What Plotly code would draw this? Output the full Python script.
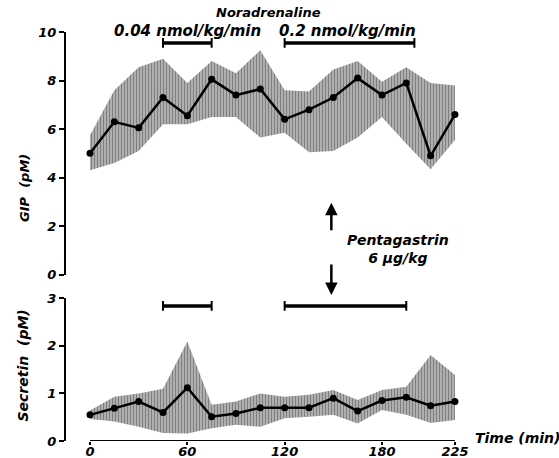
import plotly.graph_objects as go

# ---------------- data ----------------
times = [0, 15, 30, 45, 60, 75, 90, 105, 120, 135, 150, 165, 180, 195, 210, 225]

gip_mean = [5.0, 6.3, 6.05, 7.3, 6.55, 8.05, 7.4, 7.65, 6.4, 6.8, 7.3, 8.1, 7.4, 7.9, 4.9, 6.6]
gip_upper = [5.75, 7.6, 8.55, 8.9, 7.9, 8.8, 8.3, 9.25, 7.6, 7.55, 8.45, 8.8, 7.95, 8.55, 7.9, 7.8]
gip_lower = [4.3, 4.6, 5.1, 6.2, 6.2, 6.5, 6.5, 5.65, 5.85, 5.05, 5.1, 5.65, 6.5, 5.4, 4.35, 5.55]

sec_mean = [0.55, 0.69, 0.83, 0.60, 1.12, 0.51, 0.58, 0.70, 0.70, 0.70, 0.90, 0.63, 0.85, 0.92, 0.74, 0.83]
sec_upper = [0.64, 0.93, 1.0, 1.1, 2.09, 0.76, 0.83, 1.0, 0.93, 0.97, 1.07, 0.86, 1.07, 1.14, 1.81, 1.39]
sec_lower = [0.46, 0.41, 0.30, 0.17, 0.16, 0.27, 0.34, 0.30, 0.48, 0.51, 0.55, 0.37, 0.65, 0.55, 0.38, 0.44]

# infusion periods (min)
gip_infusions = [[45, 75], [120, 200]]
sec_infusions = [[45, 75], [120, 195]]
infusion_labels = ["0.04 nmol/kg/min", "0.2 nmol/kg/min"]

x_ticks = [0, 60, 120, 180, 225]
gip_ticks = [0, 2, 4, 6, 8, 10]
sec_ticks = [0, 1, 2, 3]

# ---------------- styling constants ----------------
FONT = "DejaVu Sans"


def bi(size):
    return dict(family=FONT, size=size, color="black", weight="bold", style="italic")


GIP_BAR_Y = 9.55
SEC_BAR_Y = 2.84

fig = go.Figure()


def add_panel(mean, upper, lower, xa, ya):
    fig.add_trace(go.Scatter(
        x=times + times[::-1], y=upper + lower[::-1],
        xaxis=xa, yaxis=ya, mode="lines", fill="toself",
        line=dict(width=0, color="black"),
        fillcolor="rgba(0,0,0,0)",
        fillpattern=dict(shape="|", fgcolor="black", bgcolor="white", size=3, solidity=0.75),
        showlegend=False, hoverinfo="skip"))
    fig.add_trace(go.Scatter(
        x=times, y=mean, xaxis=xa, yaxis=ya, mode="lines+markers",
        line=dict(color="black", width=2.5),
        marker=dict(color="black", size=7),
        showlegend=False))


add_panel(gip_mean, gip_upper, gip_lower, "x", "y")
add_panel(sec_mean, sec_upper, sec_lower, "x2", "y2")

for periods, level, xa, ya in [(gip_infusions, GIP_BAR_Y, "x", "y"),
                               (sec_infusions, SEC_BAR_Y, "x2", "y2")]:
    for p in periods:
        fig.add_trace(go.Scatter(
            x=p, y=[level, level], xaxis=xa, yaxis=ya, mode="lines+markers",
            line=dict(color="black", width=3.5),
            marker=dict(symbol="line-ns", size=7, line=dict(width=2, color="black")),
            showlegend=False, hoverinfo="skip"))

# x-axis line from first to last time
fig.add_shape(type="line", xref="x2", yref="y2", x0=times[0], x1=times[-1], y0=0, y1=0,
              line=dict(color="black", width=2))

XR = [-14.8, 234.9]
fig.update_layout(
    width=559, height=458,
    margin=dict(l=66, r=88, t=32, b=17),
    paper_bgcolor="white", plot_bgcolor="white",
    xaxis=dict(domain=[0, 1], range=XR, anchor="y", showline=False, showgrid=False,
               zeroline=False, showticklabels=False, ticks=""),
    yaxis=dict(domain=[0.4066, 1], range=[0, 10], anchor="x", showline=True, linecolor="black",
               linewidth=2, showgrid=False, zeroline=False, ticks="outside", ticklen=5,
               tickwidth=1.5, tickcolor="black", tickvals=gip_ticks, tickfont=bi(13),
               automargin=False),
    xaxis2=dict(domain=[0, 1], range=XR, anchor="y2", showline=False, showgrid=False,
                zeroline=False, ticks="outside", ticklen=3, tickwidth=1.5, tickcolor="black",
                tickvals=x_ticks, tickfont=bi(13), automargin=False, ticklabelstandoff=-5),
    yaxis2=dict(domain=[0, 0.3489], range=[0, 3], anchor="x2", showline=True, linecolor="black",
                linewidth=2, showgrid=False, zeroline=False, ticks="outside", ticklen=5,
                tickwidth=1.5, tickcolor="black", tickvals=sec_ticks, tickfont=bi(13),
                automargin=False),
)

ann = []
ann.append(dict(text="Noradrenaline", x=0.4988, y=1.0465, xref="paper", yref="paper",
                showarrow=False, font=bi(13), xanchor="center", yanchor="middle"))
for lab, xp in zip(infusion_labels, [0.2988, 0.695]):
    ann.append(dict(text=lab, x=xp, y=1.003, xref="paper", yref="paper", showarrow=False,
                    font=bi(15), xanchor="center", yanchor="middle"))
ann.append(dict(text="Pentagastrin<br>6 µg/kg", x=189.7, y=1.06, xref="x", yref="y",
                showarrow=False, font=bi(14), align="center"))
ann.append(dict(text="", x=148.8, y=2.96, ax=148.8, ay=1.77, xref="x", yref="y",
                axref="x", ayref="y", showarrow=True, arrowhead=2, arrowsize=1,
                arrowwidth=2.5, arrowcolor="black"))
ann.append(dict(text="", x=148.8, y=-0.84, ax=148.8, ay=0.48, xref="x", yref="y",
                axref="x", ayref="y", showarrow=True, arrowhead=2, arrowsize=1,
                arrowwidth=2.5, arrowcolor="black"))
ann.append(dict(text="GIP  (pM)", x=-0.104, y=3.57, xref="paper", yref="y", showarrow=False,
                textangle=-90, font=bi(13), xanchor="center", yanchor="middle"))
ann.append(dict(text="Secretin  (pM)", x=-0.107, y=1.58, xref="paper", yref="y2",
                showarrow=False, textangle=-90, font=bi(14), xanchor="center",
                yanchor="middle"))
ann.append(dict(text="Time (min)", x=1.005, y=0.0073, xref="paper", yref="paper",
                showarrow=False, xanchor="left", yanchor="middle", font=bi(14)))
fig.update_layout(annotations=ann)

fig.write_html("out.html")
